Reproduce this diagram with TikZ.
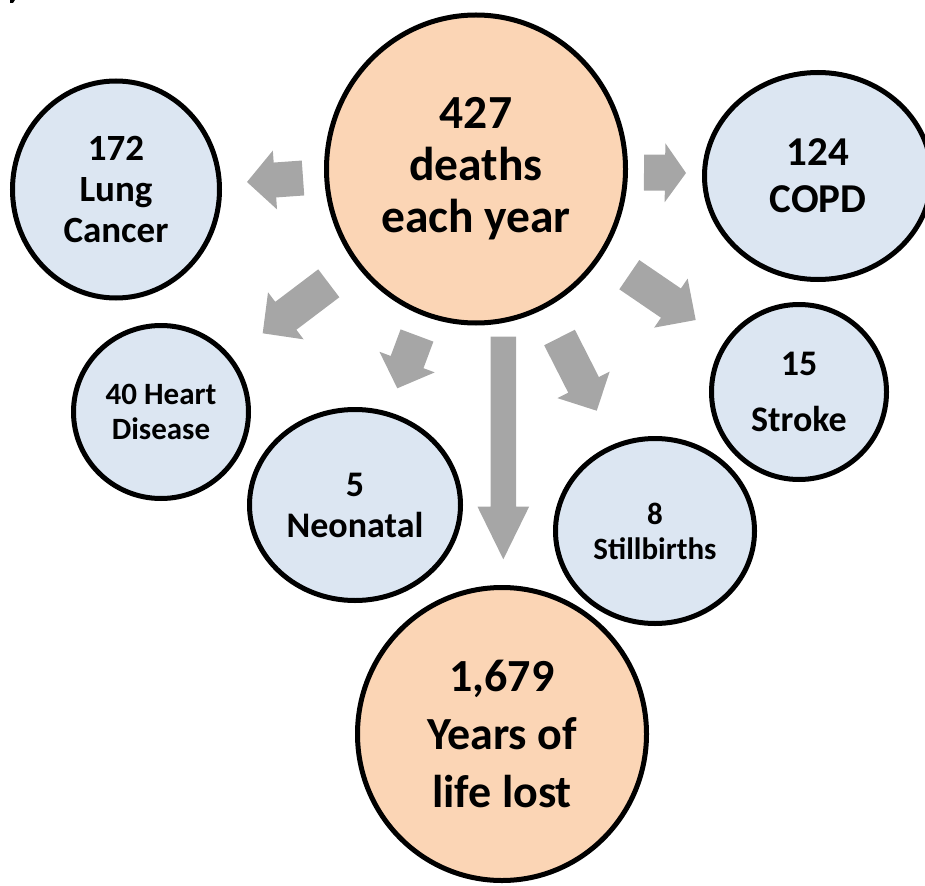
\documentclass[tikz,border=0pt]{standalone}
\usepackage{fontspec}
\setmainfont{Carlito}
\usetikzlibrary{shapes.geometric,calc}
\definecolor{peach}{HTML}{FBD5B5}
\definecolor{paleblue}{HTML}{DCE6F2}
\definecolor{arrowgray}{HTML}{A6A6A6}
% #1 tail, #2 tip, #3 half shaft width, #4 half head width, #5 head length
\newcommand\blockarrow[5]{%
  \coordinate (hb) at ($(#2)!#5!(#1)$);
  \fill[arrowgray] ($(#1)!#3!90:(#2)$) -- ($(hb)!#3!90:(#2)$) -- ($(hb)!#4!90:(#2)$)
    -- (#2) -- ($(hb)!#4!-90:(#2)$) -- ($(hb)!#3!-90:(#2)$) -- ($(#1)!#3!-90:(#2)$) -- cycle;
}
\tikzset{
  bub/.style={ellipse, draw=black, line width=5pt, inner sep=0pt, align=center, font=\bfseries},
  big/.style={bub, fill=peach},
  small/.style={bub, fill=paleblue},
}
\begin{document}
\begin{tikzpicture}[x=1pt,y=-1pt]
\useasboundingbox (0,0) rectangle (925,885);
\fill (10,0) -- (15,0) -- (13,3) -- (10,3) -- cycle;
% bubbles
\node[big, minimum width=299pt, minimum height=308pt, font=\bfseries\fontsize{47.5}{52}\selectfont] (deaths) at (476,169) {427\\deaths\\each year};
\node[small, minimum width=207pt, minimum height=217pt, font=\bfseries\fontsize{37}{41}\selectfont] (lung) at (116,189.5) {172\\Lung\\Cancer};
\node[small, minimum width=227pt, minimum height=207pt, font=\bfseries\fontsize{41}{47}\selectfont] (copd) at (818,176) {124\\COPD};
\node[small, minimum width=175pt, minimum height=173pt, font=\bfseries\fontsize{31}{35}\selectfont] (heart) at (161,412) {40 Heart\\Disease};
\node[small, minimum width=211pt, minimum height=191pt, font=\bfseries\fontsize{36}{41}\selectfont] (neo) at (355,505) {5\\Neonatal};
\node[small, minimum width=199pt, minimum height=185pt, font=\bfseries\fontsize{31}{35}\selectfont] (still) at (655,531) {8\\Stillbirths};
\node[small, minimum width=175pt, minimum height=175pt, font=\bfseries\fontsize{36}{56}\selectfont] (stroke) at (799,392) {15\\Stroke};
\node[big, minimum width=289pt, minimum height=293pt, font=\bfseries\fontsize{46}{58}\selectfont] (yll) at (502,734) {1,679\\Years of\\life lost};
% arrow end points
\coordinate (a1s) at (303,178);   \coordinate (a1e) at (247,182);
\coordinate (a2s) at (644,172.5); \coordinate (a2e) at (686,173);
\coordinate (a3s) at (328.8,283.3); \coordinate (a3e) at (262.7,333.3);
\coordinate (a4s) at (629.3,274.7); \coordinate (a4e) at (695.7,320);
\coordinate (a5s) at (417,335.5); \coordinate (a5e) at (397.3,388.3);
\coordinate (a6s) at (559.5,337.5); \coordinate (a6e) at (596.7,410.7);
\coordinate (a7s) at (503.3,336.7); \coordinate (a7e) at (503.3,559.3);
\blockarrow{a1s}{a1e}{17.5pt}{29.5pt}{28pt}
\blockarrow{a2s}{a2e}{18pt}{29.5pt}{21pt}
\blockarrow{a3s}{a3e}{17.5pt}{29.5pt}{29pt}
\blockarrow{a4s}{a4e}{17.7pt}{29.7pt}{30pt}
\blockarrow{a5s}{a5e}{17.5pt}{29.5pt}{28pt}
\blockarrow{a6s}{a6e}{17.2pt}{29.3pt}{29pt}
\blockarrow{a7s}{a7e}{12.7pt}{25.8pt}{52.6pt}
\end{tikzpicture}
\end{document}
